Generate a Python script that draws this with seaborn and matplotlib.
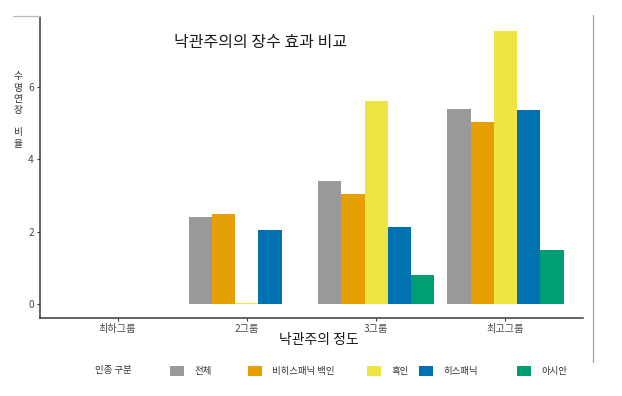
import numpy as np
import pandas as pd
import seaborn as sns
import matplotlib
matplotlib.use("Agg")
import matplotlib.pyplot as plt
from matplotlib.patches import Patch
from matplotlib.lines import Line2D

groups = ["최하그룹", "2그룹", "3그룹", "최고그룹"]
races = ["전체", "비히스패닉 백인", "흑인", "히스패닉", "아시안"]
colors = ["#999999", "#E69F00", "#F0E442", "#0072B2", "#009E73"]

# values per race, one per group (최하그룹 has no bars)
total = [np.nan, 2.41, 3.39, 5.39]
white = [np.nan, 2.50, 3.05, 5.02]
black = [np.nan, 0.03, 5.59, 7.54]
hispanic = [np.nan, 2.06, 2.14, 5.36]
asian = [np.nan, 0.02, 0.81, 1.51]

title = "낙관주의의 장수 효과 비교"
xlabel = "낙관주의 정도"
ylabel = "수명연장 비율"
legend_title = "인종 구분"

rows = []
for race, vals in zip(races, [total, white, black, hispanic, asian]):
    for g, v in zip(groups, vals):
        rows.append({"group": g, "race": race, "value": v})
df = pd.DataFrame(rows).dropna()

sns.set_style("white")
plt.rcParams["font.family"] = ["Noto Sans CJK KR", "DejaVu Sans"]
plt.rcParams["axes.unicode_minus"] = False

fig = plt.figure(figsize=(6.22, 3.96), dpi=100)
ax = fig.add_axes([40 / 622, 1 - 318 / 396, 543 / 622, 301 / 396])

sns.barplot(data=df, x="group", y="value", hue="race", order=groups,
            hue_order=races, palette=colors, width=0.9, linewidth=0,
            saturation=1, legend=False, ax=ax)

ax.set_xlim(-0.6, 3.6)
ymax = np.nanmax(black)
ax.set_ylim(-0.05 * ymax, ymax * 1.05)
ax.set_yticks([0, 2, 4, 6])
ax.set_xlabel("")
ax.set_ylabel("")
for s in ["top", "right"]:
    ax.spines[s].set_visible(False)
for s in ["left", "bottom"]:
    ax.spines[s].set_color("#3a3a3a")
    ax.spines[s].set_linewidth(1.1)
ax.tick_params(axis="both", length=2.5, width=0.8, color="#3a3a3a",
               labelsize=7.3, labelcolor="#4d4d4d", pad=2,
               left=True, bottom=True)
ax.grid(False)

fig.text(261 / 622, 1 - 42 / 396, title, ha="center", va="center",
         fontsize=11.5, color="#1a1a1a")
fig.text(319 / 622, 1 - 340 / 396, xlabel, ha="center", va="center",
         fontsize=10, color="#1a1a1a")
fig.text(18 / 622, 1 - 110 / 396, "\n".join(["수", "명", "연", "장", "", "비", "율"]),
         ha="center", va="center", fontsize=7, color="#333333",
         linespacing=1.15)

# legend
fig.text(95 / 622, 1 - 371 / 396, legend_title, ha="left", va="center",
         fontsize=6.8, color="#333333")
key_x = [170, 248, 367, 419, 517]
for race, col, kx in zip(races, colors, key_x):
    fig.legend(handles=[Patch(facecolor=col, edgecolor="none", label=race)],
               loc="center left", bbox_to_anchor=(kx / 622, 1 - 371 / 396),
               frameon=False, fontsize=6.8, handlelength=1.45,
               handleheight=1.35, handletextpad=1.1, borderpad=0,
               borderaxespad=0, labelcolor="#333333")

# screenshot frame lines
fig.add_artist(Line2D([593 / 622, 593 / 622], [1 - 15 / 396, 1 - 362 / 396],
                      color="#9aa3ad", linewidth=0.9))
fig.add_artist(Line2D([13 / 622, 40 / 622], [1 - 16 / 396, 1 - 16 / 396],
                      color="#b5bcc3", linewidth=0.9))

fig.savefig("out.png", dpi=100)
